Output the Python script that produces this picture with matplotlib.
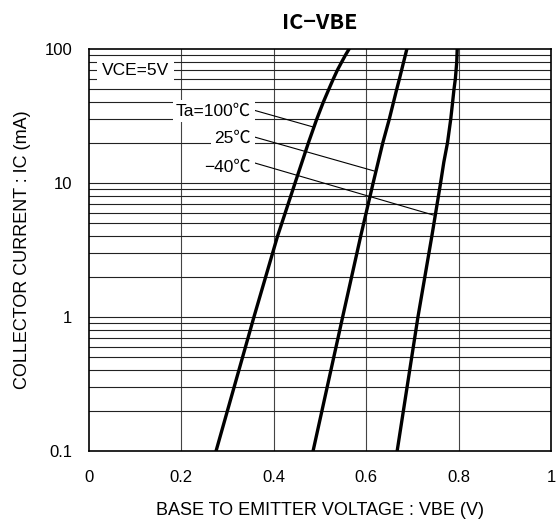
import matplotlib
matplotlib.use("Agg")
import matplotlib.pyplot as plt
import numpy as np

plt.rcParams['font.family'] = ['Liberation Sans', 'Noto Sans CJK JP', 'DejaVu Sans']

# (VBE in V, IC in mA)
ic_100 = [0.1, 1, 4, 10, 20, 30, 40, 50, 60, 70, 80, 90, 100]
vbe_100 = [0.275, 0.357, 0.408, 0.446, 0.475, 0.493, 0.507, 0.519, 0.529, 0.538, 0.547, 0.555, 0.563]
ic_25 = [0.1, 1, 4, 10, 20, 30, 40, 50, 60, 80, 100]
vbe_25 = [0.485, 0.549, 0.588, 0.615, 0.636, 0.650, 0.659, 0.666, 0.672, 0.681, 0.688]
ic_m40 = [0.1, 1, 4, 10, 14.3, 20, 30, 40, 50, 60, 80, 100]
vbe_m40 = [0.667, 0.712, 0.742, 0.761, 0.768, 0.776, 0.783, 0.787, 0.790, 0.793, 0.796, 0.797]

labels = ["Ta=100℃", "25℃", "−40℃"]
label_pos = [(0.351, 34.4), (0.351, 21.7), (0.351, 13.2)]
leaders = [((0.355, 35.1), (0.485, 26.2)),
           ((0.359, 22.0), (0.617, 12.3)),
           ((0.359, 14.1), (0.745, 5.77))]

xticks = [0, 0.2, 0.4, 0.6, 0.8, 1]
xticklabels = ["0", "0.2", "0.4", "0.6", "0.8", "1"]
yticks = [0.1, 1, 10, 100]
yticklabels = ["0.1", "1", "10", "100"]

fig = plt.figure(figsize=(5.59, 5.23), dpi=100)
ax = fig.add_axes([89/559, 72/523, 462/559, 402/523])
ax.set_yscale('log')
ax.set_xlim(0, 1)
ax.set_ylim(0.1, 100)

# grid
for x in xticks[1:-1]:
    ax.axvline(x, color='#444444', lw=0.8, zorder=1)
for dec in [0.1, 1, 10]:
    for m in range(1, 10):
        y = dec * m
        if y > 0.1:
            ax.axhline(y, color='#222222', lw=0.8, zorder=1)

ax.plot(vbe_100, ic_100, color='black', lw=2.4, zorder=3)
ax.plot(vbe_25, ic_25, color='black', lw=2.4, zorder=3)
ax.plot(vbe_m40, ic_m40, color='black', lw=2.4, zorder=3)

for (p0, p1) in leaders:
    ax.plot([p0[0], p1[0]], [p0[1], p1[1]], color='black', lw=0.8, zorder=4)

box = dict(facecolor='white', edgecolor='none', pad=2.5)
for lab, (x, y) in zip(labels, label_pos):
    ax.text(x, y, lab, ha='right', va='center', fontsize=12.5, bbox=box, zorder=5)

ax.text(0.028, 69.7, "VCE=5V", ha='left', va='center', fontsize=12.5,
        bbox=dict(facecolor='white', edgecolor='none', pad=3.5), zorder=5)

ax.set_xticks(xticks)
ax.set_xticklabels(xticklabels)
ax.set_yticks(yticks)
ax.set_yticklabels(yticklabels)
ax.minorticks_off()
ax.tick_params(axis='x', length=0, pad=14, labelsize=12)
ax.tick_params(axis='y', length=0, pad=12, labelsize=12)
for s in ax.spines.values():
    s.set_linewidth(1.2)

ax.set_xlabel("BASE TO EMITTER VOLTAGE : VBE (V)", fontsize=13)
ax.xaxis.set_label_coords(0.5, -0.149)
ax.xaxis.label.set_va('center')
ax.set_ylabel("COLLECTOR CURRENT : IC (mA)", fontsize=13)
ax.yaxis.set_label_coords(-0.145, 0.5)
ax.yaxis.label.set_va('center')

ax.text(0.5, 1.065, "IC−VBE", transform=ax.transAxes, ha='center', va='center',
        fontsize=15.5, fontweight='bold', family=['Noto Sans CJK JP'])

fig.savefig("out.png", dpi=100)
